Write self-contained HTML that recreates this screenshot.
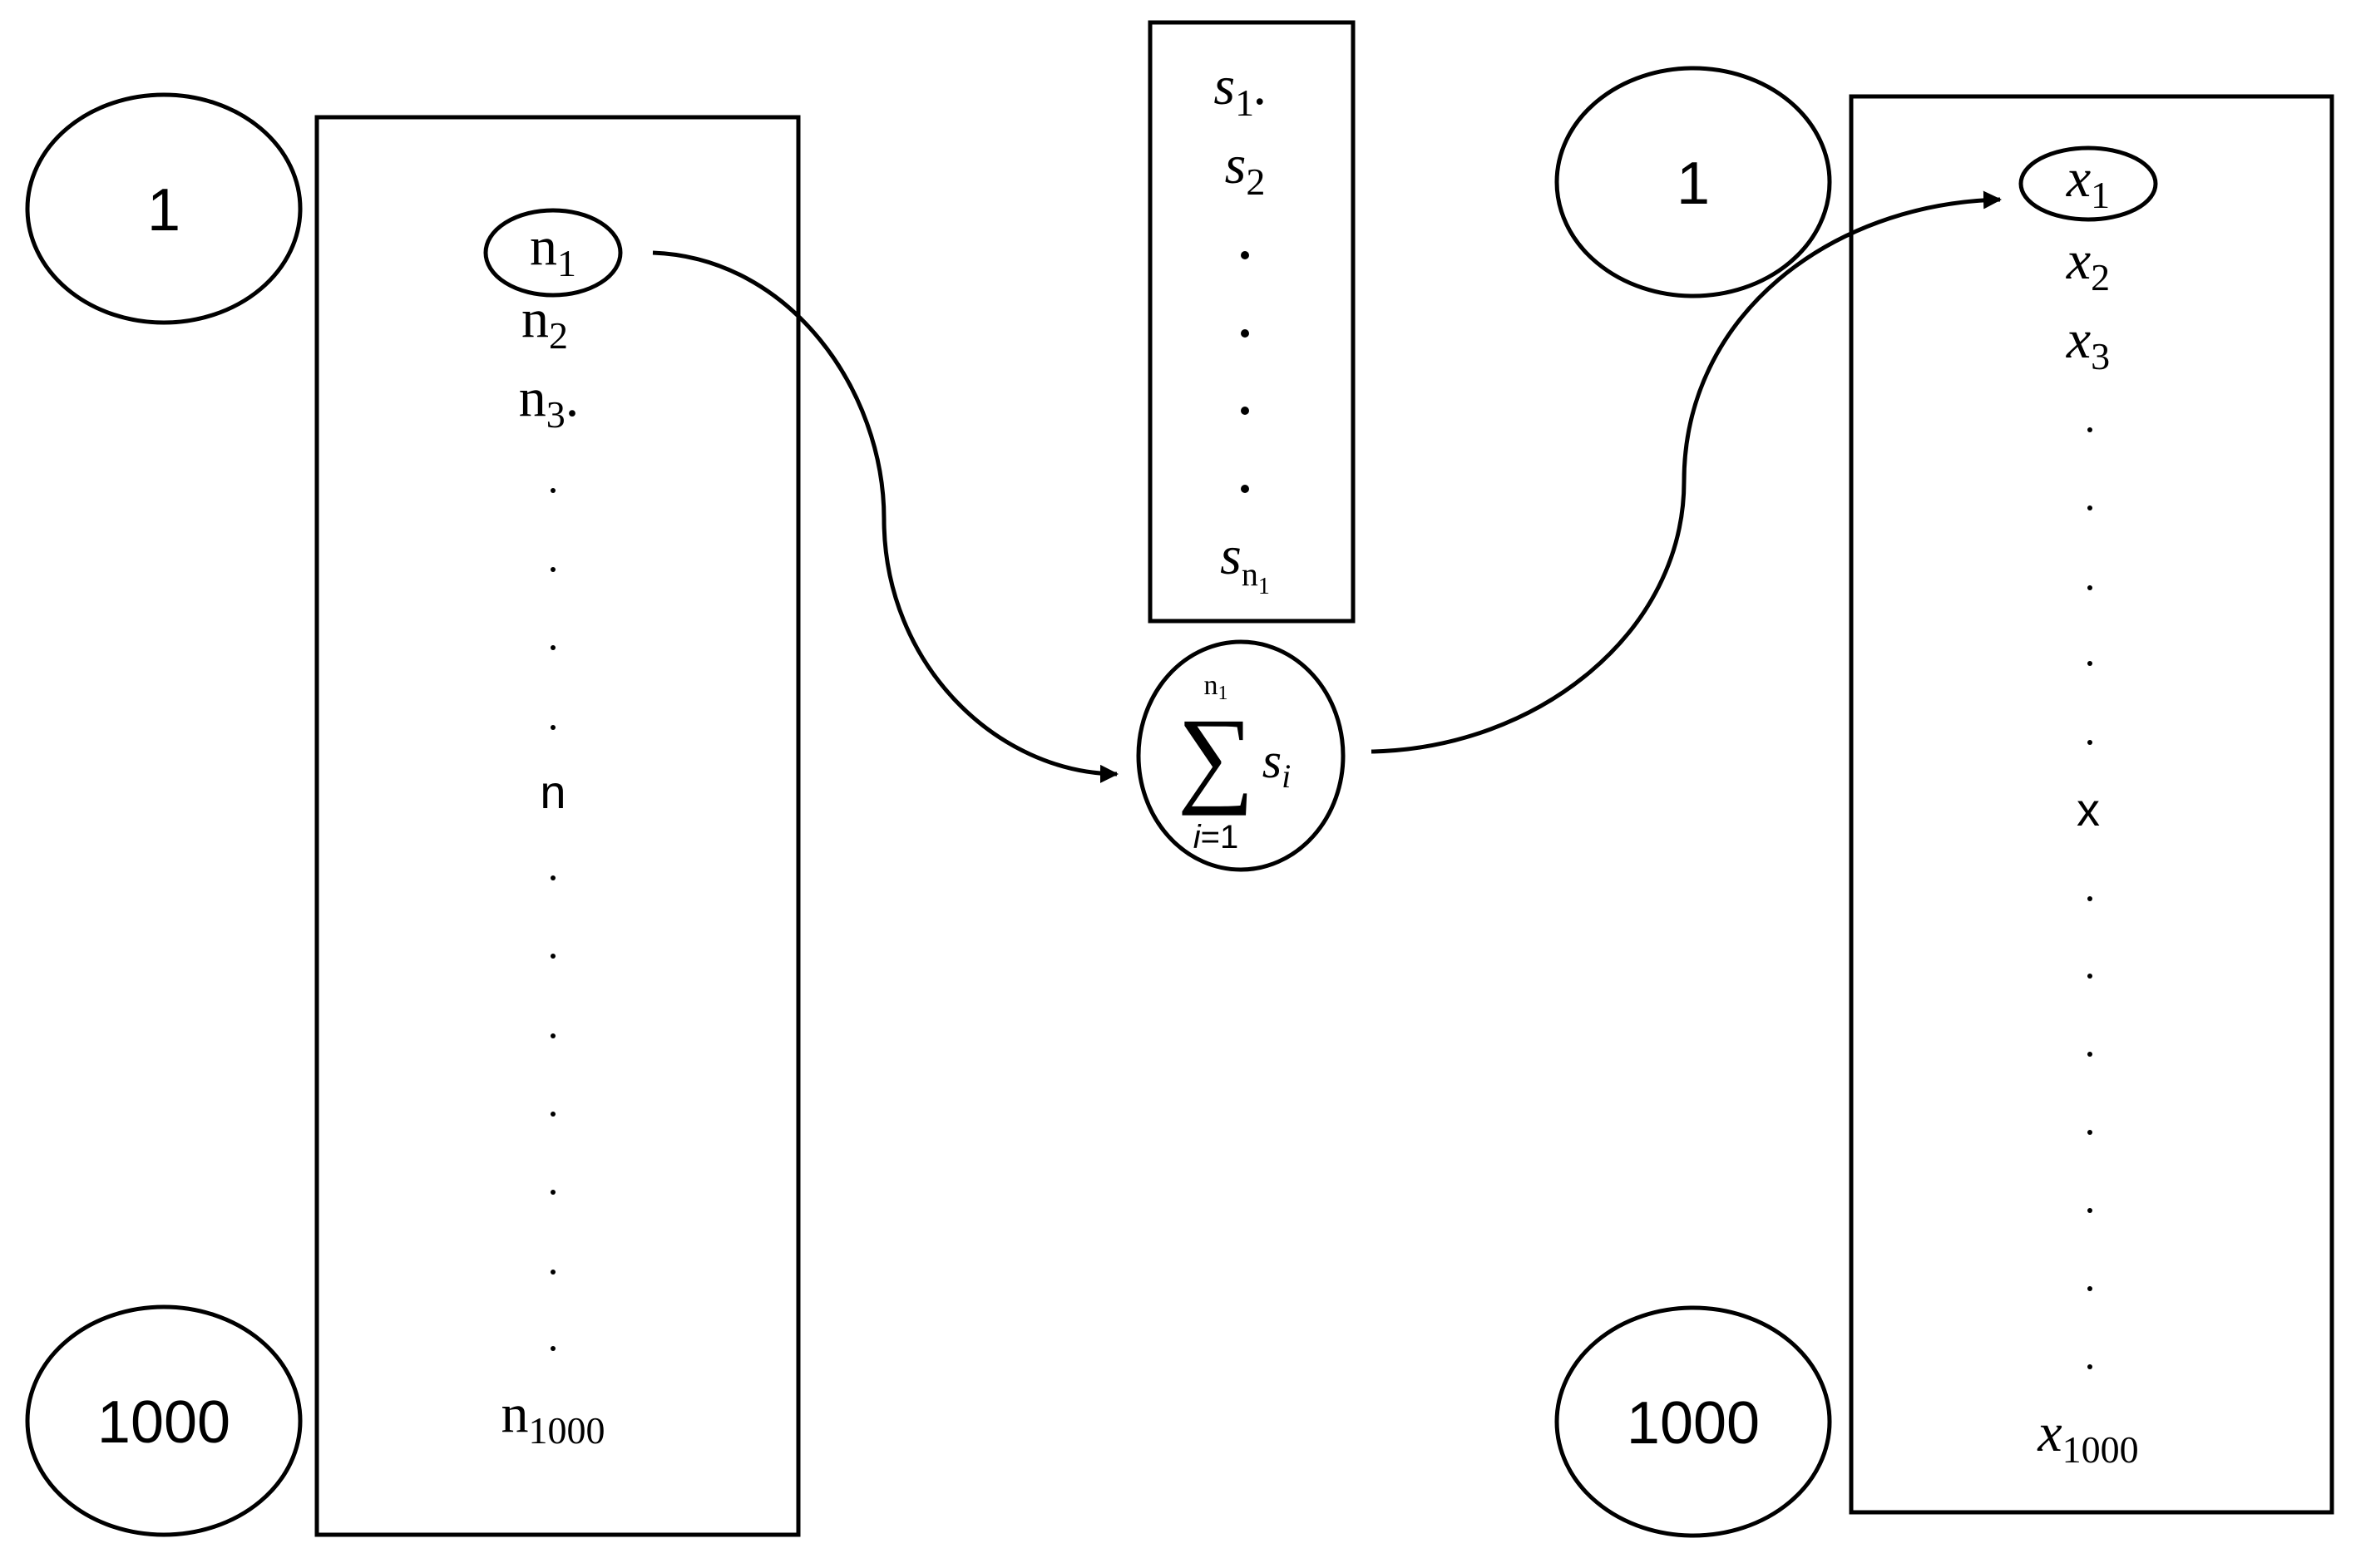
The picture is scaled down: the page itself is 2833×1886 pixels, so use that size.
<!DOCTYPE html>
<html><head><meta charset="utf-8"><style>html,body{margin:0;padding:0;background:#fff}</style></head>
<body>
<svg width="2833" height="1881" viewBox="0 0 2833 1881" xmlns="http://www.w3.org/2000/svg">
<defs><marker id="ah" markerWidth="10" markerHeight="10" refX="8" refY="5" orient="auto" markerUnits="userSpaceOnUse" viewBox="0 0 10 10"><path d="M0,0 L10,5 L0,10 z" fill="#000"/></marker>
<marker id="a2" markerWidth="24" markerHeight="22" refX="20" refY="11" orient="auto" markerUnits="userSpaceOnUse"><path d="M0,0 L22,11 L0,22 z" fill="#000"/></marker></defs>
<g fill="none" stroke="#000" stroke-width="5">
<ellipse cx="197" cy="251" rx="164" ry="137"/>
<ellipse cx="197" cy="1709" rx="164" ry="137"/>
<rect x="381" y="141" width="579" height="1705"/>
<ellipse cx="665" cy="304" rx="81" ry="51"/>
<rect x="1383" y="27" width="244" height="720"/>
<ellipse cx="1492" cy="909" rx="123" ry="137"/>
<ellipse cx="2036" cy="219" rx="164" ry="137"/>
<ellipse cx="2036" cy="1710" rx="164" ry="137"/>
<rect x="2226" y="116" width="578" height="1703"/>
<ellipse cx="2511" cy="221" rx="81" ry="43"/>
<path d="M785,304 C950,310 1063,470 1063,624 C1063,800 1200,930 1343,931" marker-end="url(#a2)"/>
<path d="M1649,904 C1850,900 2025,760 2025,579 C2025,380 2200,245 2405,240" marker-end="url(#a2)"/>
</g>
<g font-family="Liberation Sans, sans-serif" font-size="72" text-anchor="middle" fill="#000">
<text x="197" y="277">1</text>
<text x="197" y="1735">1000</text>
<text x="2036" y="245">1</text>
<text x="2036" y="1736">1000</text>
<text x="665" y="972" font-size="56">n</text>
<text x="2511" y="993" font-size="56">x</text>
</g>
<g font-family="Liberation Serif, serif" font-size="66" text-anchor="middle" fill="#000">
<text x="665" y="318">n<tspan font-size="46" dy="14">1</tspan></text>
<text x="655" y="405">n<tspan font-size="46" dy="14">2</tspan></text>
<text x="660" y="500">n<tspan font-size="46" dy="14">3</tspan><tspan dy="-14">.</tspan></text>
<text x="665" y="1722">n<tspan font-size="46" dy="14">1000</tspan></text>
<text x="1492" y="125" font-style="italic">s<tspan font-size="46" dy="14" font-style="normal">1</tspan><tspan dy="-14">.</tspan></text>
<text x="1497" y="220" font-style="italic">s<tspan font-size="46" dy="14" font-style="normal">2</tspan></text>
<text x="1497" y="690" font-style="italic">s<tspan font-size="40" dy="14" font-style="normal">n<tspan font-size="28" dy="10">1</tspan></tspan></text>
<text x="2511" y="236" font-style="italic">x<tspan font-size="46" dy="14" font-style="normal">1</tspan></text>
<text x="2511" y="335" font-style="italic">x<tspan font-size="46" dy="14" font-style="normal">2</tspan></text>
<text x="2511" y="430" font-style="italic">x<tspan font-size="46" dy="14" font-style="normal">3</tspan></text>
<text x="2511" y="1745" font-style="italic">x<tspan font-size="46" dy="14" font-style="normal">1000</tspan></text>
<text x="1462" y="953" font-size="130">∑</text>
<text x="1462" y="835" font-size="34">n<tspan font-size="24" dy="6">1</tspan></text>
<text x="1462" y="1020" font-size="40" font-family="Liberation Sans, sans-serif"><tspan font-style="italic">i</tspan>=1</text>
<text x="1535" y="935" font-style="italic" font-size="60">s<tspan font-size="40" dy="12">i</tspan></text>
</g>
<g fill="#000">
<circle cx="665" cy="590" r="3"/><circle cx="665" cy="685" r="3"/><circle cx="665" cy="779" r="3"/><circle cx="665" cy="875" r="3"/>
<circle cx="665" cy="1056" r="3"/><circle cx="665" cy="1150" r="3"/><circle cx="665" cy="1246" r="3"/><circle cx="665" cy="1340" r="3"/><circle cx="665" cy="1434" r="3"/><circle cx="665" cy="1530" r="3"/><circle cx="665" cy="1622" r="3"/>
<circle cx="1497" cy="307" r="5"/><circle cx="1497" cy="401" r="5"/><circle cx="1497" cy="494" r="5"/><circle cx="1497" cy="588" r="5"/>
<circle cx="2513" cy="517" r="3"/><circle cx="2513" cy="611" r="3"/><circle cx="2513" cy="707" r="3"/><circle cx="2513" cy="798" r="3"/><circle cx="2513" cy="893" r="3"/>
<circle cx="2513" cy="1081" r="3"/><circle cx="2513" cy="1174" r="3"/><circle cx="2513" cy="1268" r="3"/><circle cx="2513" cy="1362" r="3"/><circle cx="2513" cy="1456" r="3"/><circle cx="2513" cy="1550" r="3"/><circle cx="2513" cy="1644" r="3"/>
</g>
</svg>
</body></html>
